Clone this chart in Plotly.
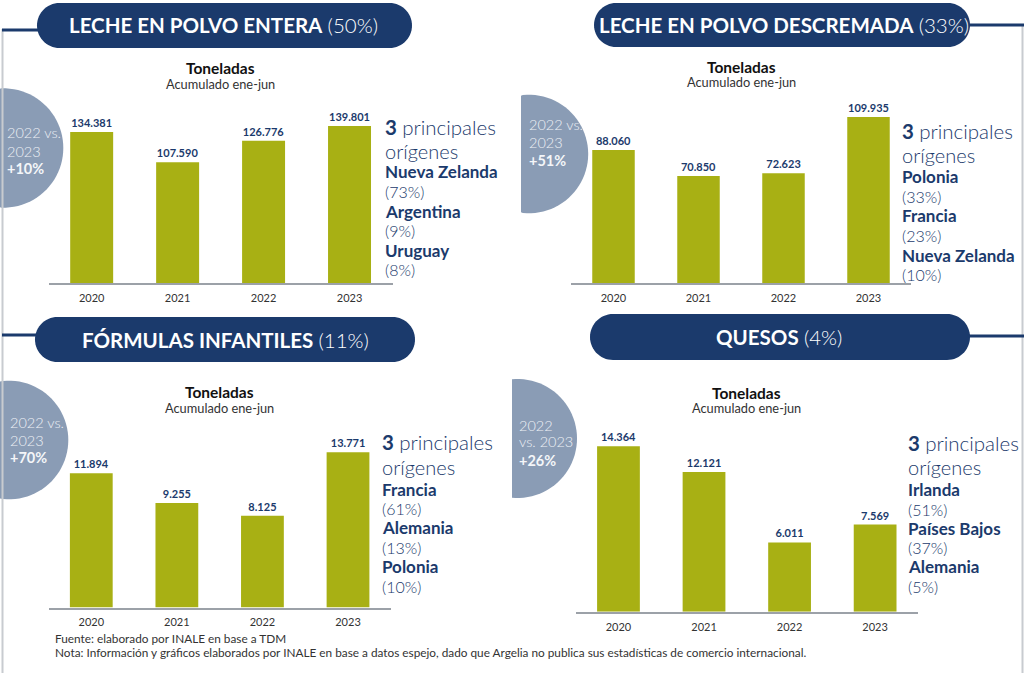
import math
import plotly.graph_objects as go

W, H = 1024, 673

# ---------------- data ----------------
years = ["2020", "2021", "2022", "2023"]
leche_entera = [134381, 107590, 126776, 139801]
leche_descremada = [88060, 70850, 72623, 109935]
formulas_infantiles = [11894, 9255, 8125, 13771]
quesos = [14364, 12121, 6011, 7569]

titles = ["LECHE EN POLVO ENTERA", "LECHE EN POLVO DESCREMADA", "FÓRMULAS INFANTILES", "QUESOS"]
title_shares = ["(50%)", "(33%)", "(11%)", "(4%)"]
variations = ["+10%", "+51%", "+70%", "+26%"]
origins_entera = ["Nueva Zelanda", "Argentina", "Uruguay"]
origins_entera_pct = ["(73%)", "(9%)", "(8%)"]
origins_descremada = ["Polonia", "Francia", "Nueva Zelanda"]
origins_descremada_pct = ["(33%)", "(23%)", "(10%)"]
origins_formulas = ["Francia", "Alemania", "Polonia"]
origins_formulas_pct = ["(61%)", "(13%)", "(10%)"]
origins_quesos = ["Irlanda", "Países Bajos", "Alemania"]
origins_quesos_pct = ["(51%)", "(37%)", "(5%)"]

fuente = "Fuente: elaborado por INALE en base a TDM"
nota = ("Nota: Información y gráficos elaborados por INALE en base a datos espejo, "
        "dado que Argelia no publica sus estadísticas de comercio internacional.")

# ---------------- style ----------------
NAVY = "#1B3A6C"
BAR = "#A8B014"
CIRCLE = "#8A9CB5"
FONT = "Lato"

def px(x):
    return x / W

def py(y):
    return 1 - y / H

panels = [
    dict(values=leche_entera, xdom=(48.7, 392.5), base=283.0, top=105.0, ratio=0.001123,
         pill=(37, 3, 412, 48), title_c=(223, 25.5),
         circ=(3.6, 148, 59.7, 0), circ_txt=(5, [132.5, 151, 168.5]),
         circ_lines=["2022 vs.", "2023"],
         ton=(220.5, 68, 84), right_x=382.7,
         right_y=[127, 151.2, 171.7, 191.7, 211, 230, 250, 269.3],
         origins=origins_entera, pcts=origins_entera_pct),
    dict(values=leche_descremada, xdom=(571.0, 911.0), base=283.0, top=105.0, ratio=0.00151,
         pill=(594, 3, 970, 47), title_c=(784, 25),
         circ=(529, 154, 59.2, 521), circ_txt=(527, [124, 142.3, 160.3]),
         circ_lines=["2022 vs.", "2023"],
         ton=(741, 66.7, 82.3), right_x=900.3,
         right_y=[131.3, 155.2, 176.7, 196.7, 216, 235, 255, 274],
         origins=origins_descremada, pcts=origins_descremada_pct),
    dict(values=formulas_infantiles, xdom=(48.5, 390.8), base=607.5, top=430.0, ratio=0.01128,
         pill=(35, 317, 415, 362), title_c=(225, 339.5),
         circ=(9, 440, 59.3, 0), circ_txt=(8, [422.3, 440.3, 457.7]),
         circ_lines=["2022 vs.", "2023"],
         ton=(219.8, 391.7, 407.7), right_x=380,
         right_y=[442.3, 466.8, 489, 508.3, 527.7, 547.3, 566.7, 586],
         origins=origins_formulas, pcts=origins_formulas_pct),
    dict(values=quesos, xdom=(575.7, 917.9), base=611.7, top=430.0, ratio=0.01152,
         pill=(590, 314, 970, 360), title_c=(779, 337),
         circ=(517.5, 438.5, 59.5, 512), circ_txt=(516.7, [425, 441.7, 460]),
         circ_lines=["2022", "vs. 2023"],
         ton=(746.7, 392.7, 408.3), right_x=906.3,
         right_y=[443.3, 466.8, 489, 509, 528.3, 547.7, 566.7, 586],
         origins=origins_quesos, pcts=origins_quesos_pct),
]

fig = go.Figure()
shapes = []
annotations = []


def rounded_pill(x0, y0, x1, y1):
    r = (y1 - y0) / 2
    pts = []
    cy = (y0 + y1) / 2
    for i in range(0, 31):
        a = -math.pi / 2 + math.pi * i / 30
        pts.append((x1 - r + r * math.cos(a), cy + r * math.sin(a)))
    for i in range(0, 31):
        a = math.pi / 2 + math.pi * i / 30
        pts.append((x0 + r + r * math.cos(a), cy + r * math.sin(a)))
    return "M " + " L ".join(f"{px(a):.5f},{py(b):.5f}" for a, b in pts) + " Z"


def clipped_circle(cx, cy, r, xmin):
    pts = []
    n = 90
    for i in range(n + 1):
        a = 2 * math.pi * i / n
        x = cx + r * math.cos(a)
        y = cy + r * math.sin(a)
        pts.append((max(x, xmin), y))
    return "M " + " L ".join(f"{px(a):.5f},{py(b):.5f}" for a, b in pts) + " Z"


# decorative frame lines
shapes.append(dict(type="line", xref="paper", yref="paper", x0=px(2.5), x1=px(2.5),
                   y0=py(29), y1=py(673), line=dict(color="#C8CBD0", width=2)))
shapes.append(dict(type="line", xref="paper", yref="paper", x0=px(1022.5), x1=px(1022.5),
                   y0=py(24), y1=py(673), line=dict(color="#C8CBD0", width=2)))
for (a, b, yy) in [(2, 40, 30), (2, 38, 335), (966, 1024, 25), (966, 1024, 336)]:
    shapes.append(dict(type="line", xref="paper", yref="paper", x0=px(a), x1=px(b),
                       y0=py(yy), y1=py(yy), line=dict(color=NAVY, width=3)))

for i, p in enumerate(panels):
    n = i + 1
    xa = "x" if n == 1 else f"x{n}"
    ya = "y" if n == 1 else f"y{n}"
    rng = (p["base"] - p["top"]) / p["ratio"]
    fig.add_trace(go.Bar(
        x=years, y=p["values"], xaxis=xa, yaxis=ya,
        marker=dict(color=BAR, line=dict(width=0)),
        texttemplate="<b>%{y:,}</b>", textposition="outside", cliponaxis=False,
        textfont=dict(family=FONT, size=11, color=NAVY),
        hoverinfo="skip",
    ))
    xkey = "xaxis" if n == 1 else f"xaxis{n}"
    ykey = "yaxis" if n == 1 else f"yaxis{n}"
    fig.update_layout({
        xkey: dict(domain=[px(p["xdom"][0]), px(p["xdom"][1])], anchor=ya,
                   type="category", range=[-0.5, 3.5], showgrid=False,
                   showline=True, linecolor="#9CA1A8", linewidth=1.5,
                   ticks="", ticklabelstandoff=4,
                   tickfont=dict(family=FONT, size=11, color="#333333"),
                   fixedrange=True, zeroline=False),
        ykey: dict(domain=[py(p["base"]), py(p["top"])], anchor=xa,
                   range=[0, rng], visible=False, showgrid=False, zeroline=False,
                   fixedrange=True),
    })

    # circle badge
    cx, cy, r, xmin = p["circ"]
    shapes.append(dict(type="path", xref="paper", yref="paper",
                       path=clipped_circle(cx, cy, r, xmin),
                       fillcolor=CIRCLE, line=dict(width=0), layer="below"))
    tx, tys = p["circ_txt"]
    for txt, yy in zip(p["circ_lines"], tys[:2]):
        annotations.append(dict(x=px(tx), y=py(yy), xref="paper", yref="paper",
                                text=txt, showarrow=False, xanchor="left", yanchor="middle",
                                font=dict(family=FONT, size=14.5, color="#EEF1F5", weight=300)))
    annotations.append(dict(x=px(tx), y=py(tys[2]), xref="paper", yref="paper",
                            text="<b>" + variations[i] + "</b>", showarrow=False,
                            xanchor="left", yanchor="middle",
                            font=dict(family=FONT, size=14.5, color="#F4F6F9")))

    # title pill
    x0, y0, x1, y1 = p["pill"]
    shapes.append(dict(type="path", xref="paper", yref="paper",
                       path=rounded_pill(x0, y0, x1, y1),
                       fillcolor=NAVY, line=dict(width=0), layer="below"))
    annotations.append(dict(x=px(p["title_c"][0]), y=py(p["title_c"][1]), xref="paper", yref="paper",
                            text=f"<b>{titles[i]}</b> <span style='font-weight:300'>{title_shares[i]}</span>",
                            showarrow=False, xanchor="center", yanchor="middle",
                            font=dict(family=FONT, size=20.5, color="white")))

    # chart headers
    tcx, ty1, ty2 = p["ton"]
    annotations.append(dict(x=px(tcx), y=py(ty1), xref="paper", yref="paper",
                            text="<b>Toneladas</b>", showarrow=False,
                            xanchor="center", yanchor="middle",
                            font=dict(family=FONT, size=15.5, color="#111111")))
    annotations.append(dict(x=px(tcx), y=py(ty2), xref="paper", yref="paper",
                            text="Acumulado ene-jun", showarrow=False,
                            xanchor="center", yanchor="middle",
                            font=dict(family=FONT, size=12.8, color="#333333")))

    # right-hand text
    rx = p["right_x"]
    ry = p["right_y"]
    annotations.append(dict(x=px(rx), y=py(ry[0]), xref="paper", yref="paper",
                            text="<b>3</b> <span style='font-weight:300'>principales</span>",
                            showarrow=False, xanchor="left", yanchor="middle",
                            font=dict(family=FONT, size=20.5, color=NAVY)))
    annotations.append(dict(x=px(rx), y=py(ry[1]), xref="paper", yref="paper",
                            text="orígenes", showarrow=False, xanchor="left", yanchor="middle",
                            font=dict(family=FONT, size=20, color=NAVY, weight=300)))
    for k in range(3):
        annotations.append(dict(x=px(rx), y=py(ry[2 + 2 * k]), xref="paper", yref="paper",
                                text="<b>" + p["origins"][k] + "</b>", showarrow=False,
                                xanchor="left", yanchor="middle",
                                font=dict(family=FONT, size=17, color=NAVY)))
        annotations.append(dict(x=px(rx), y=py(ry[3 + 2 * k]), xref="paper", yref="paper",
                                text=p["pcts"][k], showarrow=False,
                                xanchor="left", yanchor="middle",
                                font=dict(family=FONT, size=16, color=NAVY, weight=300)))

# footnotes
annotations.append(dict(x=px(53), y=py(638.5), xref="paper", yref="paper", text=fuente,
                        showarrow=False, xanchor="left", yanchor="middle",
                        font=dict(family=FONT, size=11.8, color="#333333")))
annotations.append(dict(x=px(53), y=py(652), xref="paper", yref="paper", text=nota,
                        showarrow=False, xanchor="left", yanchor="middle",
                        font=dict(family=FONT, size=11.8, color="#333333")))

fig.update_layout(
    width=W, height=H, autosize=False,
    margin=dict(l=0, r=0, t=0, b=0, pad=0),
    paper_bgcolor="white", plot_bgcolor="rgba(0,0,0,0)",
    showlegend=False, bargap=0.5, separators=",.",
    shapes=shapes, annotations=annotations,
    font=dict(family=FONT),
)

fig.write_html("out.html", config={"displayModeBar": False},
               post_script="document.body.style.margin='0';document.body.style.padding='0';")
